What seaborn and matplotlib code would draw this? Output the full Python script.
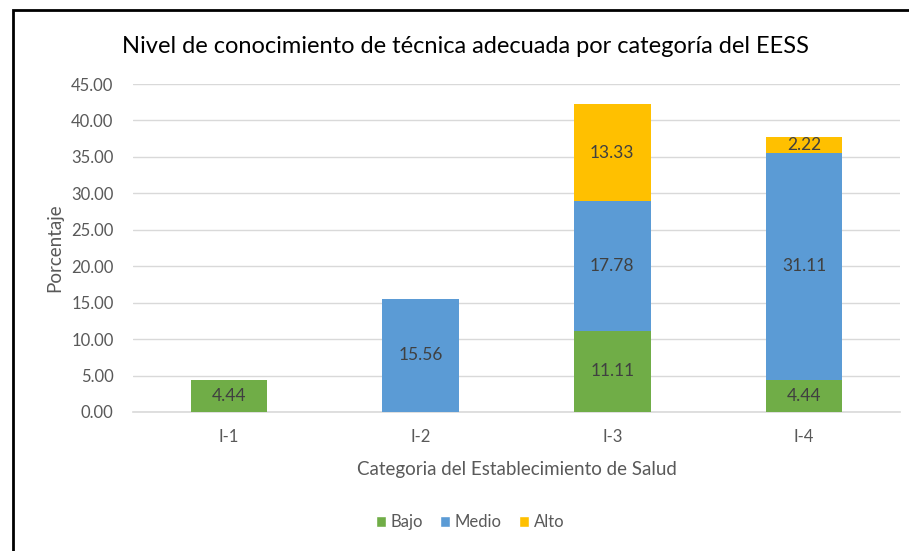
import numpy as np
import matplotlib
matplotlib.use("Agg")
import matplotlib.pyplot as plt
import seaborn as sns
from matplotlib.patches import Rectangle, Patch

categorias = ["I-1", "I-2", "I-3", "I-4"]
bajo = [4.44, 0.0, 11.11, 4.44]
medio = [0.0, 15.56, 17.78, 31.11]
alto = [0.0, 0.0, 13.33, 2.22]
series = ["Bajo", "Medio", "Alto"]
colores = ["#70AD47", "#5B9BD5", "#FFC000"]
yticks = np.arange(0, 46, 5)

sns.set_style("white")
plt.rcParams["font.family"] = ["Lato", "DejaVu Sans"]

fig = plt.figure(figsize=(9.09, 5.51), dpi=100)
ax = fig.add_axes([0.1463, 0.2523, 0.8437, 0.5952])

base = np.zeros(len(categorias))
for nombre, valores, color in zip(series, [bajo, medio, alto], colores):
    sns.barplot(x=categorias, y=valores, bottom=base, color=color, width=0.4,
                ax=ax, zorder=3, saturation=1, linewidth=0)
    for i, v in enumerate(valores):
        if v > 0:
            ax.text(i, base[i] + v / 2, f"{v:.2f}", ha="center", va="center",
                    fontsize=12.5, color="#404040", zorder=4)
    base = base + np.array(valores)

ax.set_ylim(0, 45)
ax.set_xlim(-0.5, 3.5)
ax.set_yticks(yticks)
ax.set_yticklabels([f"{t:.2f}" for t in yticks], fontsize=12, color="#595959")
ax.set_xticks(range(len(categorias)))
ax.set_xticklabels(categorias, fontsize=12, color="#595959")
ax.tick_params(axis="y", length=0, pad=14)
ax.tick_params(axis="x", length=0, pad=12)
ax.yaxis.grid(True, color="#D9D9D9", linewidth=1, zorder=0)
for s in ["top", "right", "left"]:
    ax.spines[s].set_visible(False)
ax.spines["bottom"].set_color("#D9D9D9")
ax.spines["bottom"].set_linewidth(1.2)

ax.set_xlabel("Categoria del Establecimiento de Salud", fontsize=13.5,
              color="#595959", labelpad=12)
ax.set_ylabel("Porcentaje", fontsize=13.5, color="#595959", labelpad=6)
fig.text(0.512, 0.915, "Nivel de conocimiento de técnica adecuada por categoría del EESS",
         ha="center", va="center", fontsize=17, color="#000000")

handles = [Patch(facecolor=c, label=n) for n, c in zip(series, colores)]
fig.legend(handles=handles, loc="center", bbox_to_anchor=(0.517, 0.052), ncol=3,
           frameon=False, fontsize=12, handlelength=0.6, handleheight=0.6,
           handletextpad=0.3, columnspacing=1.0, labelcolor="#595959")

fig.patches.append(Rectangle((13 / 909, -0.05), 1.2, 1 - 10 / 551 + 0.05,
                             transform=fig.transFigure, fill=False,
                             edgecolor="black", linewidth=2))

fig.savefig("out.png", dpi=100)
